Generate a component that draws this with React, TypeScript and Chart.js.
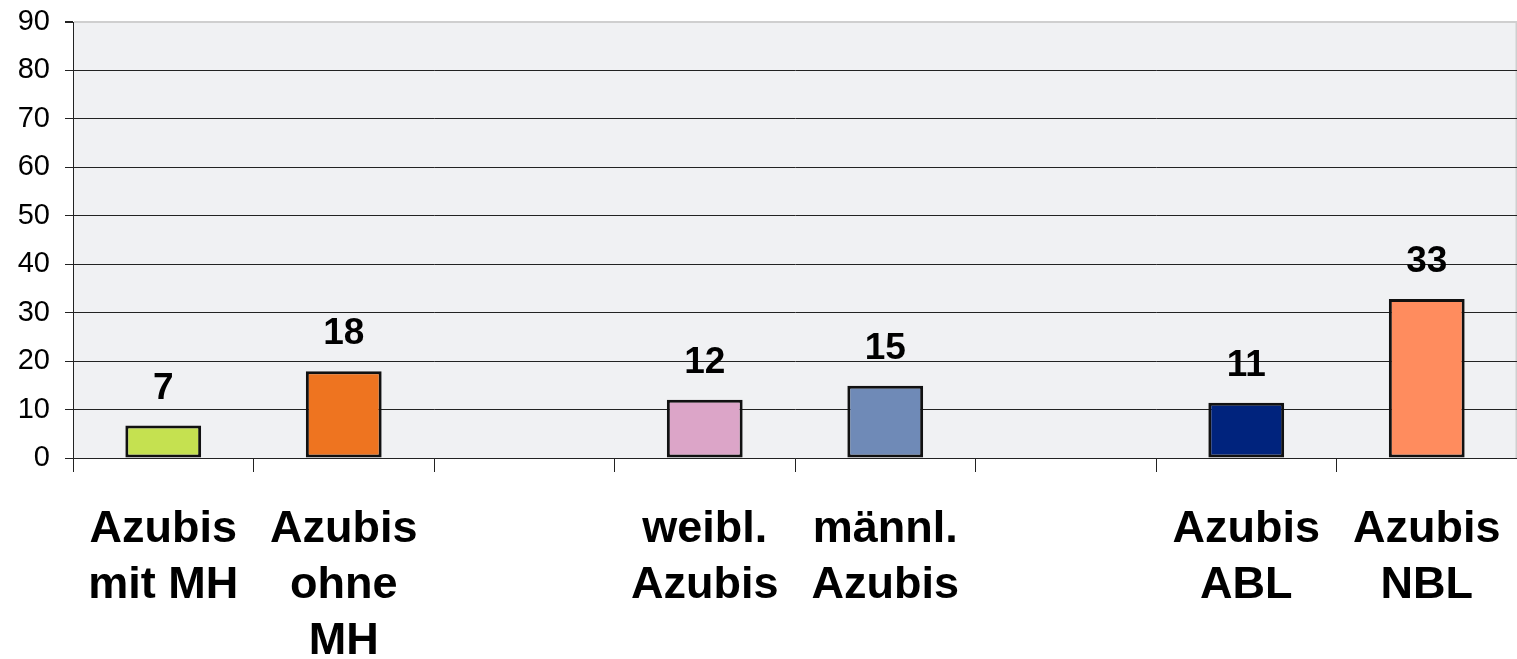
import React, { useEffect, useRef } from "react";
import { Chart, registerables } from "chart.js";

Chart.register(...registerables);

const categories: (string | string[])[] = [
  ["Azubis", "mit MH"],
  ["Azubis", "ohne", "MH"],
  "",
  ["weibl.", "Azubis"],
  ["männl.", "Azubis"],
  "",
  ["Azubis", "ABL"],
  ["Azubis", "NBL"],
];
const values: (number | null)[] = [6.7, 17.9, null, 12, 14.9, null, 11.4, 32.8];
const barColors = ["#C5E150", "#EE7420", "#FFFFFF", "#DCA5C8", "#6F8AB7", "#FFFFFF", "#00237D", "#FF8C5E"];
const yMin = 0;
const yMax = 90;
const yStep = 10;

const FONT = "'Liberation Sans', Arial, Helvetica, sans-serif";

const plotBg = {
  id: "plotBg",
  beforeDraw(chart: any) {
    const { ctx, chartArea } = chart;
    ctx.save();
    ctx.fillStyle = "#F0F1F3";
    ctx.fillRect(chartArea.left, chartArea.top, chartArea.right - chartArea.left, chartArea.bottom - chartArea.top);
    ctx.strokeStyle = "#CFCFCF";
    ctx.lineWidth = 1.5;
    ctx.beginPath();
    ctx.moveTo(chartArea.right - 0.75, chartArea.top);
    ctx.lineTo(chartArea.right - 0.75, chartArea.bottom);
    ctx.stroke();
    ctx.restore();
  },
};

const valueLabels = {
  id: "valueLabels",
  afterDatasetsDraw(chart: any) {
    const { ctx } = chart;
    const meta = chart.getDatasetMeta(0);
    ctx.save();
    ctx.font = `bold 37px ${FONT}`;
    ctx.fillStyle = "#000";
    ctx.textAlign = "center";
    ctx.textBaseline = "alphabetic";
    meta.data.forEach((bar: any, i: number) => {
      const v = values[i];
      if (v === null || v === undefined) return;
      ctx.fillText(String(Math.round(v)), bar.x, bar.y - 27);
    });
    ctx.restore();
  },
};

export default function App() {
  const ref = useRef<HTMLCanvasElement>(null);
  useEffect(() => {
    document.body.style.margin = "0";
    const chart = new Chart(ref.current!, {
      type: "bar",
      data: {
        labels: categories,
        datasets: [
          {
            data: values,
            backgroundColor: barColors,
            borderColor: "#111111",
            borderWidth: 3,
            borderSkipped: false,
            barPercentage: 0.42,
            categoryPercentage: 1,
          },
        ],
      },
      options: {
        animation: false,
        responsive: true,
        maintainAspectRatio: false,
        layout: { padding: { top: 22, left: 0, right: 0, bottom: 0 } },
        plugins: { legend: { display: false }, tooltip: { enabled: false } },
        scales: {
          x: {
            offset: true,
            grid: {
              offset: true,
              drawOnChartArea: false,
              drawTicks: true,
              tickLength: 14,
              color: "#222",
              lineWidth: 1,
            },
            border: { display: true, color: "#222", width: 1 },
            ticks: {
              color: "#000",
              padding: 30,
              maxRotation: 0,
              autoSkip: false,
              font: { family: FONT, size: 45, weight: "bold", lineHeight: 1.244 },
            },
            afterFit: (s: any) => {
              s.height = 201;
              s.paddingLeft = 0;
              s.paddingRight = 0;
            },
          },
          y: {
            min: yMin,
            max: yMax,
            ticks: {
              stepSize: yStep,
              color: "#000",
              padding: 15,
              font: { family: FONT, size: 29 },
            },
            grid: {
              color: (c: any) => (c.tick && c.tick.value === yMax ? "#CFCFCF" : "#222"),
              lineWidth: (c: any) => (c.tick && c.tick.value === yMax ? 2 : 1),
              tickColor: "#222",
              tickLength: 8,
            },
            border: { display: true, color: "#222", width: 1 },
            afterFit: (s: any) => {
              s.width = 73;
              s.paddingTop = 0;
              s.paddingBottom = 0;
            },
          },
        },
      },
      plugins: [plotBg, valueLabels],
    });
    return () => chart.destroy();
  }, []);
  return (
    <div style={{ position: "fixed", left: 0, top: 0, width: 1517, height: 659, background: "#fff" }}>
      <canvas ref={ref} />
    </div>
  );
}
